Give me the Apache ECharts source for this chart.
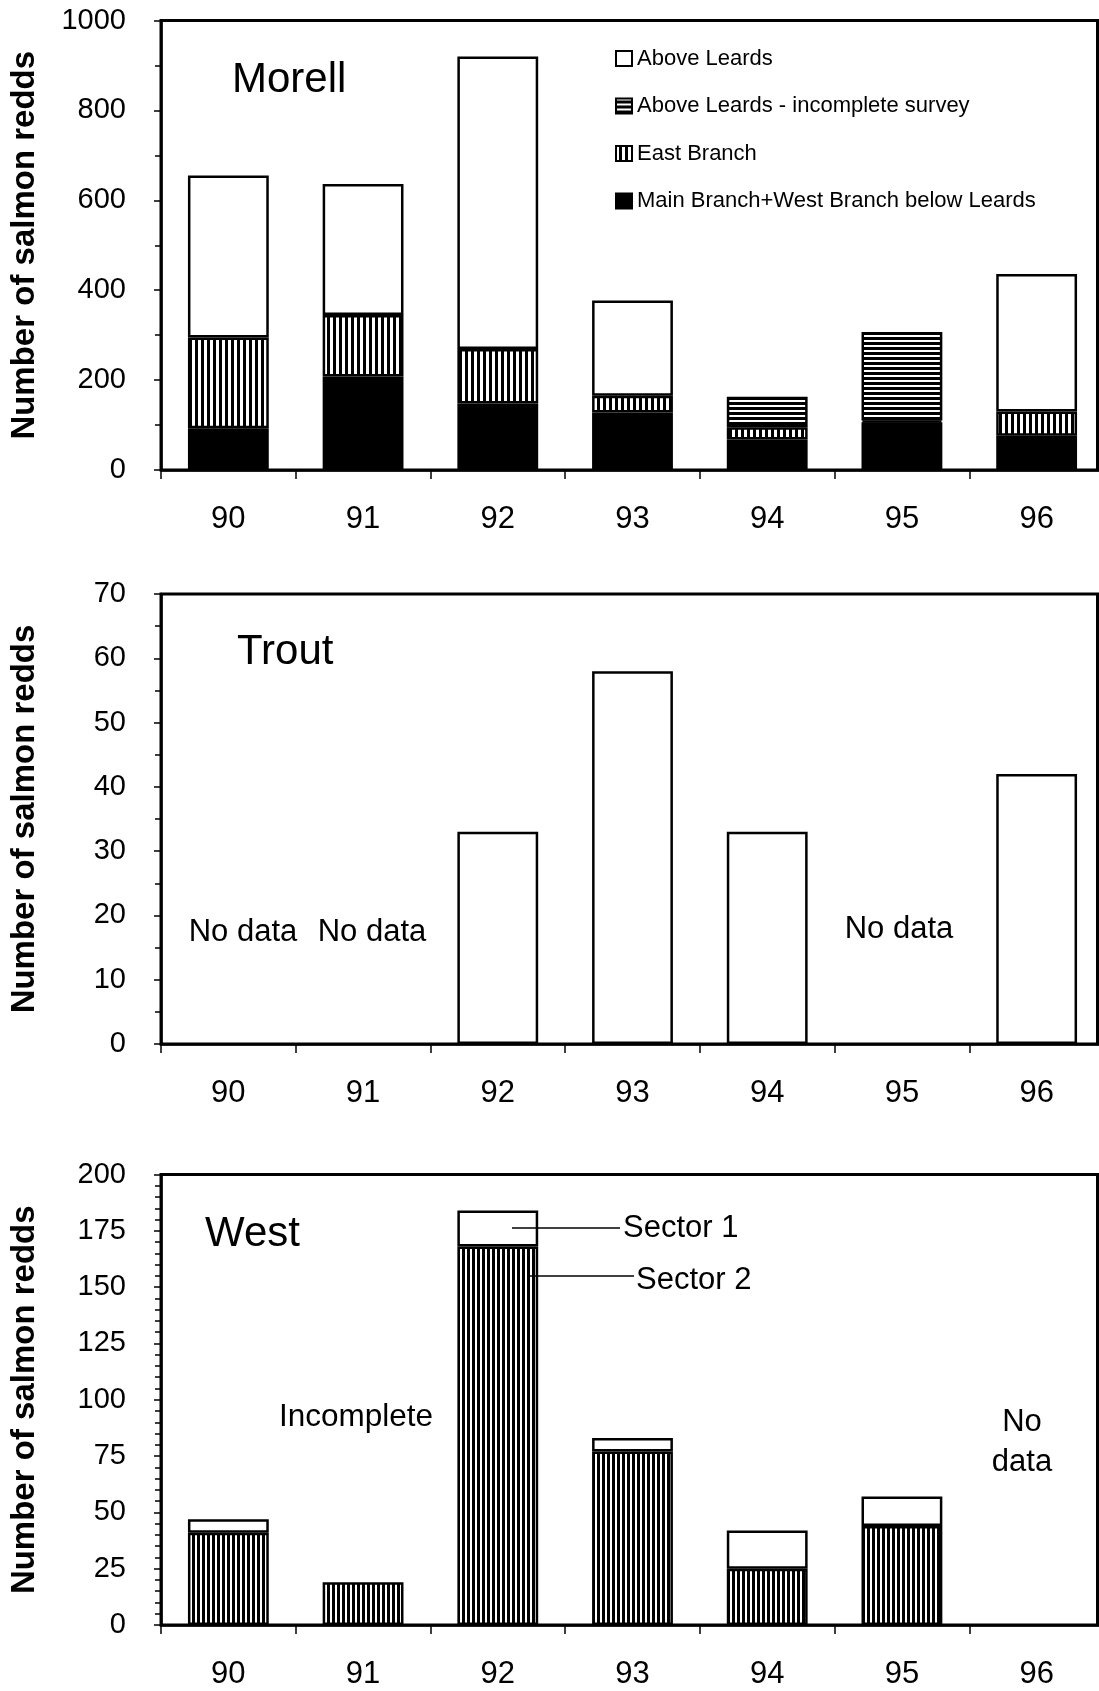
<!DOCTYPE html>
<html>
<head>
<meta charset="utf-8">
<script src="https://cdn.jsdelivr.net/npm/echarts@6/dist/echarts.min.js"></script>
<style>
html,body{margin:0;padding:0;background:#fff;overflow:hidden;width:1099px;height:1691px;}
#chart{width:1104px;height:1691px;}
</style>
</head>
<body>
<div id="chart"></div>
<script>
// ---- data ----
const years = ['90', '91', '92', '93', '94', '95', '96'];
const morellMain = [93, 208, 148, 128, 68, 106, 76];
const morellEast = [202, 137, 121, 37, 27, 4, 54];
const morellIncomplete = [null, null, null, null, 68, 197, null];
const morellAbove = [360, 291, 651, 212, null, null, 306];
const troutRedds = [null, null, 33, 58, 33, null, 42];
const westSector2 = [41, 19, 168, 77, 25, 44, null];
const westSector1 = [6, null, 16, 6, 17, 13, null];
const morellAxis = {min: 0, max: 1000, interval: 200, minor: 2};
const troutAxis = {min: 0, max: 70, interval: 10, minor: 2};
const westAxis = {min: 0, max: 200, interval: 25, minor: 5};
const legendNames = ['Above Leards', 'Above Leards - incomplete survey', 'East Branch', 'Main Branch+West Branch below Leards'];

const FONT = 'Liberation Sans, Arial, Helvetica, sans-serif';

function vStripes(period, white) {
  const c = document.createElement('canvas');
  c.width = period; c.height = period;
  const g = c.getContext('2d');
  g.fillStyle = '#000'; g.fillRect(0, 0, period, period);
  g.fillStyle = '#fff'; g.fillRect(0, 0, white, period);
  return {image: c, repeat: 'repeat'};
}
function hStripes(period, white) {
  const c = document.createElement('canvas');
  c.width = period; c.height = period;
  const g = c.getContext('2d');
  g.fillStyle = '#000'; g.fillRect(0, 0, period, period);
  g.fillStyle = '#fff'; g.fillRect(0, 0, period, white);
  return {image: c, repeat: 'repeat'};
}

const grids = [
  {left: 160.5, right: 0, top: 20.5, height: 449.5},
  {left: 160.5, right: 0, top: 594, height: 450},
  {left: 160.5, right: 0, top: 1174.5, height: 450.5}
].map(g => Object.assign(g, {show: true, borderColor: '#000', borderWidth: 3}));

function xAxis(i) {
  return {
    gridIndex: i, type: 'category', data: years,
    axisLine: {show: true, lineStyle: {color: '#000', width: 2.5}},
    axisTick: {show: true, alignWithLabel: false, length: 9, lineStyle: {color: '#000', width: 1.5}},
    axisLabel: {fontSize: 31, color: '#000', margin: 34, fontFamily: FONT},
    splitLine: {show: false}
  };
}
function yAxis(i, a) {
  return {
    gridIndex: i, type: 'value', min: a.min, max: a.max, interval: a.interval,
    axisLine: {show: true, lineStyle: {color: '#000', width: 2.5}},
    axisTick: {show: true, length: 7, lineStyle: {color: '#000', width: 1.5}},
    minorTick: {show: true, splitNumber: a.minor, length: 6, lineStyle: {color: '#000', width: 1.5}},
    splitLine: {show: false},
    axisLabel: {fontSize: 29, color: '#000', margin: 35, fontFamily: FONT, formatter: v => String(v)},
    name: 'Number of salmon redds', nameLocation: 'middle', nameRotate: 90, nameGap: 120,
    nameTextStyle: {fontSize: 33, fontWeight: 'bold', color: '#000', fontFamily: FONT}
  };
}

const border = {borderColor: '#000', borderWidth: 2.5};
function bar(name, data, xi, stack, color) {
  return {
    name: name, type: 'bar', xAxisIndex: xi, yAxisIndex: xi, stack: stack,
    data: data, barWidth: '60%',
    itemStyle: Object.assign({color: color}, border),
    emphasis: {disabled: true}, animation: false
  };
}

const legendTops = [47.5, 95, 142.5, 190];
const legends = legendNames.map((n, k) => ({
  data: [n], left: 615, top: legendTops[k], padding: 0, orient: 'vertical',
  icon: 'rect', itemWidth: 16, itemHeight: 15, selectedMode: false,
  textStyle: {fontSize: 22, color: '#000', fontFamily: FONT}
}));

function txt(t, x, y, size, align) {
  return {type: 'text', x: x, y: y, z: 100,
    style: {text: t, fontSize: size, fontFamily: FONT, fill: '#000', align: align || 'center', verticalAlign: 'middle'}};
}
function line(x1, y1, x2, y2, w) {
  return {type: 'line', z: 100, shape: {x1: x1, y1: y1, x2: x2, y2: y2}, style: {stroke: '#000', lineWidth: w}};
}

const graphics = [
  txt('Morell', 232, 80, 42, 'left'),
  txt('Trout', 237, 652, 42, 'left'),
  txt('West', 205, 1234, 42, 'left'),
  txt('No data', 243, 932, 31),
  txt('No data', 372, 932, 31),
  txt('No data', 899, 929, 31),
  txt('Incomplete', 356, 1417, 31.5),
  txt('No', 1022, 1422, 31),
  txt('data', 1022, 1462, 31),
  txt('Sector 1', 623, 1228, 31, 'left'),
  txt('Sector 2', 636, 1280, 31, 'left'),
  line(512, 1228, 620, 1228, 1.5),
  line(527, 1276, 634, 1276, 1.5),
  line(1097.5, 20.5, 1097.5, 470, 3),
  line(1097.5, 594, 1097.5, 1044, 3),
  line(1097.5, 1174.5, 1097.5, 1625, 3)
];

const chart = echarts.init(document.getElementById('chart'), null, {renderer: 'canvas'});
chart.setOption({
  animation: false,
  backgroundColor: '#fff',
  grid: grids,
  xAxis: [xAxis(0), xAxis(1), xAxis(2)],
  yAxis: [yAxis(0, morellAxis), yAxis(1, troutAxis), yAxis(2, westAxis)],
  legend: legends,
  series: [
    bar('Main Branch+West Branch below Leards', morellMain, 0, 'm', '#000'),
    bar('East Branch', morellEast, 0, 'm', vStripes(6, 3)),
    bar('Above Leards - incomplete survey', morellIncomplete, 0, 'm', hStripes(5, 2)),
    bar('Above Leards', morellAbove, 0, 'm', '#fff'),
    bar('Trout', troutRedds, 1, 't', '#fff'),
    bar('Sector 2', westSector2, 2, 'w', vStripes(5, 2)),
    bar('Sector 1', westSector1, 2, 'w', '#fff')
  ],
  graphic: graphics
});
</script>
</body>
</html>
